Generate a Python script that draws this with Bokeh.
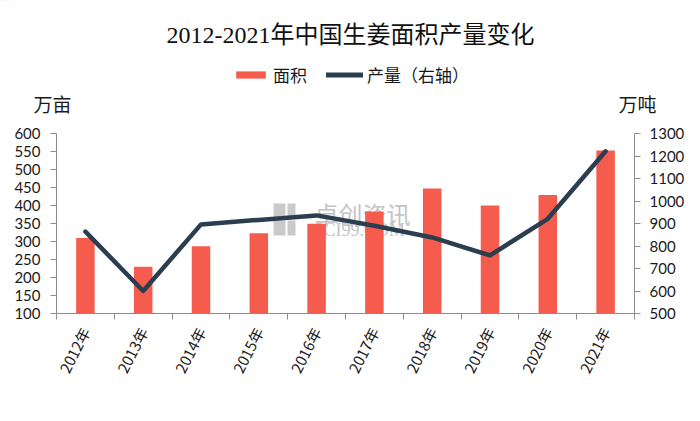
from bokeh.plotting import figure
from bokeh.models import (Range1d, LinearAxis, FixedTicker, Label, Legend, LegendItem,
                          ColumnDataSource, BoxAnnotation)
from bokeh.layouts import column, row
from bokeh.embed import file_html
from bokeh.resources import INLINE

# ---- data ----
years = ["2012年", "2013年", "2014年", "2015年", "2016年",
         "2017年", "2018年", "2019年", "2020年", "2021年"]
area = [310, 230, 287, 323, 349, 383, 447, 400, 429, 553]          # 万亩 (left axis)
output = [864, 600, 896, 916, 936, 890, 838, 758, 921, 1221]      # 万吨 (right axis)
left_ticks = [100, 150, 200, 250, 300, 350, 400, 450, 500, 550, 600]
right_ticks = [500, 600, 700, 800, 900, 1000, 1100, 1200, 1300]

title_text = "2012-2021年中国生姜面积产量变化"
left_unit = "万亩"
right_unit = "万吨"
bar_name = "面积"
line_name = "产量（右轴）"
wm_cn = "卓创资讯"
wm_en = "SCI99.COM"

BAR = "#F55C4D"
LINE = "#2B3E50"
AXIS = "#8C8C8C"
TXT = "#1a1a1a"
WM = "#c4c4c4"
NUM_FONT = "Lato"
CJK = "Noto Sans CJK SC"
W = 700
TOP_H = 120
MAIN_H = 301

xs = list(range(len(years)))
src = ColumnDataSource(dict(x=xs, area=area, output=output))

# ---------------- header figure (title, legend, units) ----------------
top = figure(width=W, height=TOP_H, output_backend="svg", toolbar_location=None,
             x_range=Range1d(0, W), y_range=Range1d(0, TOP_H),
             x_axis_type=None, y_axis_type=None,
             min_border_left=0, min_border_right=0, min_border_top=0, min_border_bottom=0)
top.outline_line_color = None
top.grid.visible = False
top.extra_y_ranges = {"hide": Range1d(-5000, -4000)}

top.add_layout(Label(x=W / 2, y=TOP_H - 34, text=title_text,
                     text_align="center", text_baseline="middle",
                     text_font="Liberation Serif, " + CJK, text_font_size="24px",
                     text_color="#111111"))
top.add_layout(Label(x=52, y=TOP_H - 103, text=left_unit,
                     text_align="center", text_baseline="middle",
                     text_font=CJK, text_font_size="19px", text_color=TXT))
top.add_layout(Label(x=637, y=TOP_H - 103, text=right_unit,
                     text_align="center", text_baseline="middle",
                     text_font=CJK, text_font_size="19px", text_color=TXT))

# legend swatches: same series on an off-screen range of the header figure
lg_bar = top.vbar(x="x", top="area", bottom=100, width=0.32, source=src,
                  y_range_name="hide", fill_color=BAR, line_color=None)
lg_line = top.line(x="x", y="output", source=src, y_range_name="hide",
                   line_color=LINE, line_width=5, line_cap="round")
legend = Legend(items=[LegendItem(label=bar_name, renderers=[lg_bar]),
                       LegendItem(label=line_name, renderers=[lg_line])],
                orientation="horizontal", location=(232, TOP_H - 87),
                glyph_width=37, glyph_height=9, label_height=20,
                label_standoff=4, spacing=19, padding=0, margin=0,
                border_line_color=None, background_fill_alpha=0,
                label_text_font=CJK, label_text_font_size="17px",
                label_text_color=TXT)
top.add_layout(legend, "center")

# ---------------- main chart ----------------
p = figure(width=W, height=MAIN_H, output_backend="svg", toolbar_location=None,
           x_range=Range1d(-0.5, len(years) - 0.5), y_range=Range1d(100, 600),
           min_border_left=56, min_border_right=66, min_border_top=13,
           min_border_bottom=108)
p.extra_y_ranges = {"r": Range1d(500, 1300)}
p.xgrid.visible = False
p.ygrid.visible = False
p.outline_line_color = None

# watermark (under data)
for l, r, b, t in [(217, 229, 95, 110), (231, 239, 95, 110),
                   (217, 229, 78, 93), (231, 239, 78, 93)]:
    p.add_layout(BoxAnnotation(left=l, right=r, bottom=b, top=t,
                               left_units="screen", right_units="screen",
                               bottom_units="screen", top_units="screen",
                               fill_color=WM, fill_alpha=0.9, line_color=None,
                               level="underlay"))
p.add_layout(Label(x=258, y=100, x_units="screen", y_units="screen", text=wm_cn,
                   text_baseline="middle", text_font=CJK, text_font_size="24px",
                   text_color=WM, level="underlay"))
p.add_layout(Label(x=257, y=84, x_units="screen", y_units="screen", text=wm_en,
                   text_baseline="middle", text_font="Liberation Serif",
                   text_font_size="18px", text_color=WM, level="underlay"))

bars = p.vbar(x="x", top="area", bottom=100, width=0.32, source=src,
              fill_color=BAR, line_color=None)
ln = p.line(x="x", y="output", source=src, y_range_name="r",
            line_color=LINE, line_width=4.5, line_join="round", line_cap="round")


def style_axis(ax):
    ax.axis_line_color = AXIS
    ax.major_tick_line_color = AXIS
    ax.minor_tick_line_color = AXIS
    ax.major_label_text_font = NUM_FONT
    ax.major_label_text_font_size = "15px"
    ax.major_label_text_color = TXT


yl = p.yaxis[0]
yl.ticker = FixedTicker(ticks=left_ticks)
style_axis(yl)
yl.major_tick_out = 6
yl.major_tick_in = 0
yl.minor_tick_out = 0
yl.minor_tick_in = 0
yl.major_label_standoff = 10

yr = LinearAxis(y_range_name="r", ticker=FixedTicker(ticks=right_ticks))
style_axis(yr)
yr.major_tick_out = 6
yr.major_tick_in = 0
yr.minor_tick_out = 0
yr.minor_tick_in = 0
yr.major_label_standoff = 9
p.add_layout(yr, "right")

xa = p.xaxis[0]
xa.ticker = FixedTicker(ticks=xs, minor_ticks=[i - 0.5 for i in range(len(years) + 1)])
style_axis(xa)
xa.major_tick_out = 0
xa.major_tick_in = 0
xa.minor_tick_out = 6
xa.minor_tick_in = 0
xa.major_label_overrides = {i: years[i] for i in xs}
xa.major_label_orientation = 1.1
xa.major_label_standoff = 9
xa.major_label_text_font = CJK
xa.major_label_text_font_size = "15px"

layout = column(row(top), row(p), spacing=0)
open("out.html", "w").write(file_html(layout, INLINE))
